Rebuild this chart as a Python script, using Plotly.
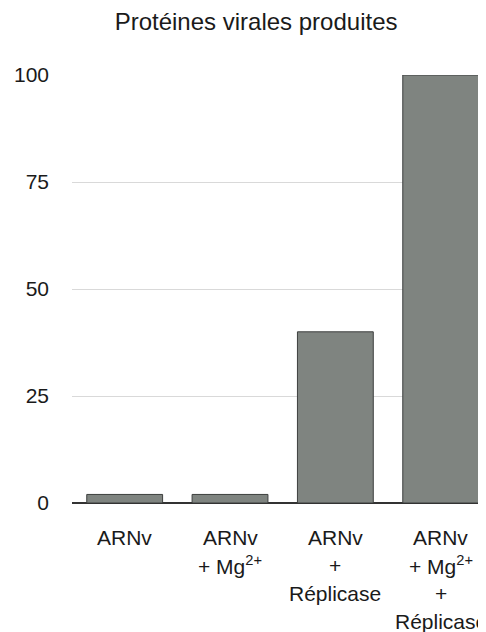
import plotly.graph_objects as go

categories = ["ARNv", "ARNv<br>+ Mg<sup>2+</sup>", "ARNv<br>+<br>Réplicase", "ARNv<br>+ Mg<sup>2+</sup><br>+<br>Réplicase"]
values = [2, 2, 40, 100]
y_ticks = [0, 25, 50, 75, 100]
title_text = "Protéines virales produites"

FONT = "Liberation Sans, Arial, Helvetica, sans-serif"
TXT = "#1a1a1a"

fig = go.Figure()
fig.add_trace(go.Bar(
    x=list(range(len(categories))),
    y=values,
    marker=dict(color="#7f8480", line=dict(color="#3d3f3e", width=1)),
    hoverinfo="skip",
))

annotations = []
for i, cat in enumerate(categories):
    for j, line in enumerate(cat.split("<br>")):
        annotations.append(dict(
            x=i, y=0, xref="x", yref="y", text=line, showarrow=False,
            xanchor="center", yanchor="middle", yshift=-34 - 28 * j,
            font=dict(family=FONT, size=21, color=TXT),
        ))

fig.update_layout(
    width=478, height=624,
    margin=dict(l=64, r=0, t=67, b=129),
    paper_bgcolor="white", plot_bgcolor="white",
    showlegend=False,
    bargap=0.28,
    title=dict(text=title_text, x=0.519, xanchor="center", y=0.979, yanchor="middle",
               font=dict(family=FONT, size=24, color=TXT)),
    xaxis=dict(range=[-0.5, 3.43], showticklabels=False, ticks="", showgrid=False,
               zeroline=False, showline=False),
    yaxis=dict(range=[0, 100], tickvals=y_ticks, ticks="", ticklabelstandoff=22,
               showgrid=True, gridcolor="#d9d9d9", gridwidth=1,
               zeroline=True, zerolinecolor="#333333", zerolinewidth=2,
               showline=False,
               tickfont=dict(family=FONT, size=21, color=TXT)),
    annotations=annotations,
)

fig.write_html("out.html")
